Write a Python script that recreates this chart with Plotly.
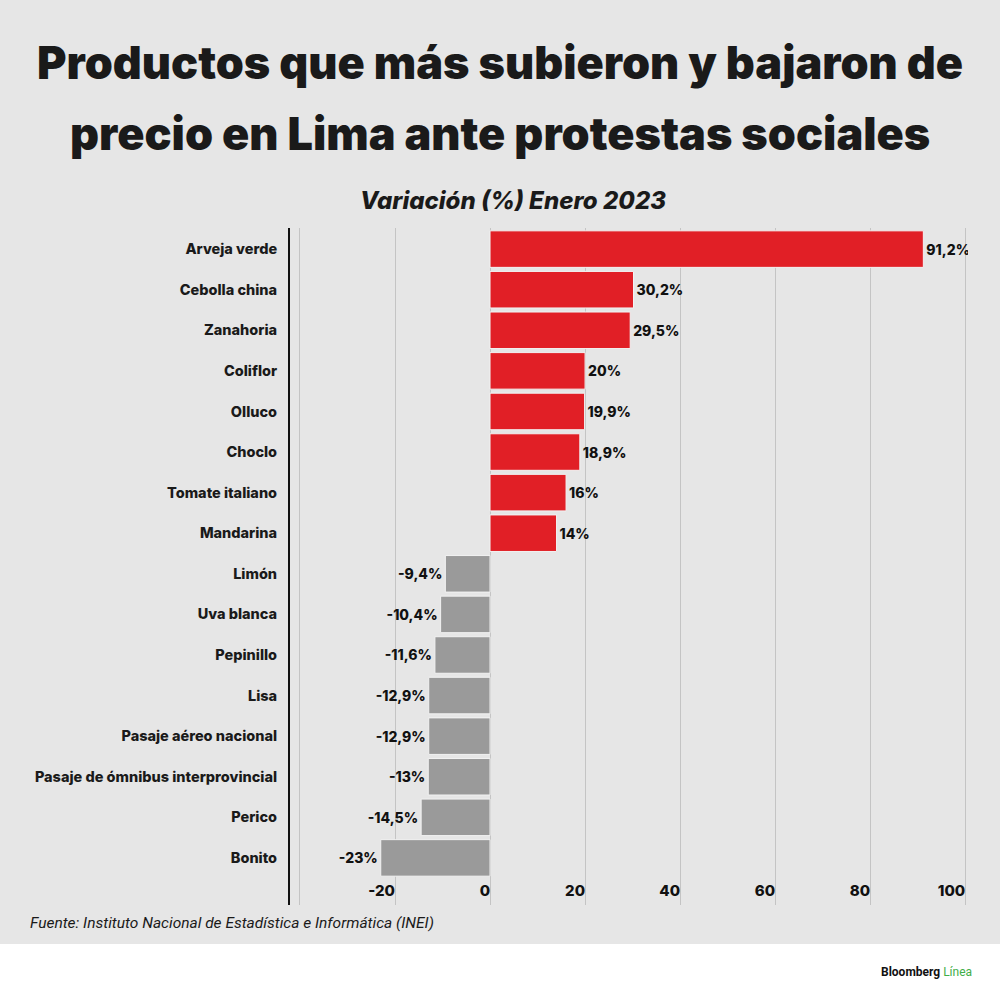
import plotly.graph_objects as go

productos = [
    "Arveja verde", "Cebolla china", "Zanahoria", "Coliflor", "Olluco",
    "Choclo", "Tomate italiano", "Mandarina", "Limón", "Uva blanca",
    "Pepinillo", "Lisa", "Pasaje aéreo nacional",
    "Pasaje de ómnibus interprovincial", "Perico", "Bonito",
]
variacion = [91.2, 30.2, 29.5, 20, 19.9, 18.9, 16, 14,
             -9.4, -10.4, -11.6, -12.9, -12.9, -13, -14.5, -23]

x_tickvals = [-40, -20, 0, 20, 40, 60, 80, 100]
x_ticktext = ["", "-20", "0", "20", "40", "60", "80", "100"]

ROJO = "#e11f26"
GRIS = "#9a9a9a"
FONDO = "#e6e6e6"
TINTA = "#1a1a1a"

etiquetas = [("%g" % v).replace(".", ",") + "%" for v in variacion]
colores = [ROJO if v > 0 else GRIS for v in variacion]

fig = go.Figure()
fig.add_trace(
    go.Bar(
        x=variacion,
        y=productos,
        orientation="h",
        marker=dict(color=colores, line=dict(color="#f2f2f2", width=1)),
        width=0.9,
        text=etiquetas,
        textposition="outside",
        textfont=dict(family="Inter", size=14, color="#111111", weight=800),
        cliponaxis=True,
        hoverinfo="skip",
        showlegend=False,
    )
)

# fondo gris de la parte superior
fig.add_shape(
    type="rect", xref="paper", yref="paper",
    x0=-0.5, x1=1.5, y0=-0.0577, y1=1.5,
    fillcolor=FONDO, line=dict(width=0), layer="below",
)

cx = (500 - 290) / 678  # centro de la figura en coords del papel

# titulo en dos lineas
fig.add_annotation(
    text="Productos que más subieron y bajaron de",
    xref="paper", yref="paper", x=cx, y=1.0,
    yshift=166, showarrow=False, xanchor="center", yanchor="middle",
    font=dict(family="Inter", size=45, color=TINTA, weight=900),
)
fig.add_annotation(
    text="precio en Lima ante protestas sociales",
    xref="paper", yref="paper", x=cx, y=1.0,
    yshift=95, showarrow=False, xanchor="center", yanchor="middle",
    font=dict(family="Inter", size=45, color=TINTA, weight=900),
)
fig.add_annotation(
    text="<i>Variación (%) Enero 2023</i>",
    xref="paper", yref="paper", x=(513 - 290) / 678, y=1.0,
    yshift=28, showarrow=False, xanchor="center", yanchor="middle",
    font=dict(family="Inter", size=24, color=TINTA, weight=800),
)
fig.add_annotation(
    text="<i>Fuente: Instituto Nacional de Estadística e Informática (INEI)</i>",
    xref="paper", yref="paper", x=(28 - 290) / 678, y=0.0,
    yshift=-18, showarrow=False, xanchor="left", yanchor="middle",
    font=dict(family="Roboto", size=15.5, color=TINTA),
)
fig.add_annotation(
    text="<b>Bloomberg</b> <span style='color:#3fae49'>Línea</span>",
    xref="paper", yref="paper", x=(974 - 290) / 678, y=0.0,
    yshift=-67, showarrow=False, xanchor="right", yanchor="middle",
    font=dict(family="Roboto", size=12, color="#111111"),
)

fig.update_layout(
    width=1000,
    height=1000,
    paper_bgcolor="white",
    plot_bgcolor=FONDO,
    margin=dict(l=290, r=32, t=228, b=95),
    bargap=0.1,
    xaxis=dict(
        range=[-42.1, 100.6],
        tickvals=x_tickvals,
        ticktext=x_ticktext,
        ticklabelposition="inside left",
        tickfont=dict(family="Inter", size=15, color="#111111", weight=800),
        showgrid=True,
        gridcolor="#c4c4c4",
        gridwidth=1,
        zeroline=False,
        showline=False,
        fixedrange=True,
    ),
    yaxis=dict(
        type="category",
        range=[16.16, -0.52],
        showline=True,
        linecolor="#111111",
        linewidth=2,
        ticks="",
        ticklabelstandoff=8,
        tickfont=dict(family="Inter", size=14.5, color=TINTA, weight=800),
        showgrid=False,
        fixedrange=True,
    ),
)

fig.write_html(
    "out.html",
    config={"displayModeBar": False},
    post_script="document.body.style.margin='0';",
)
